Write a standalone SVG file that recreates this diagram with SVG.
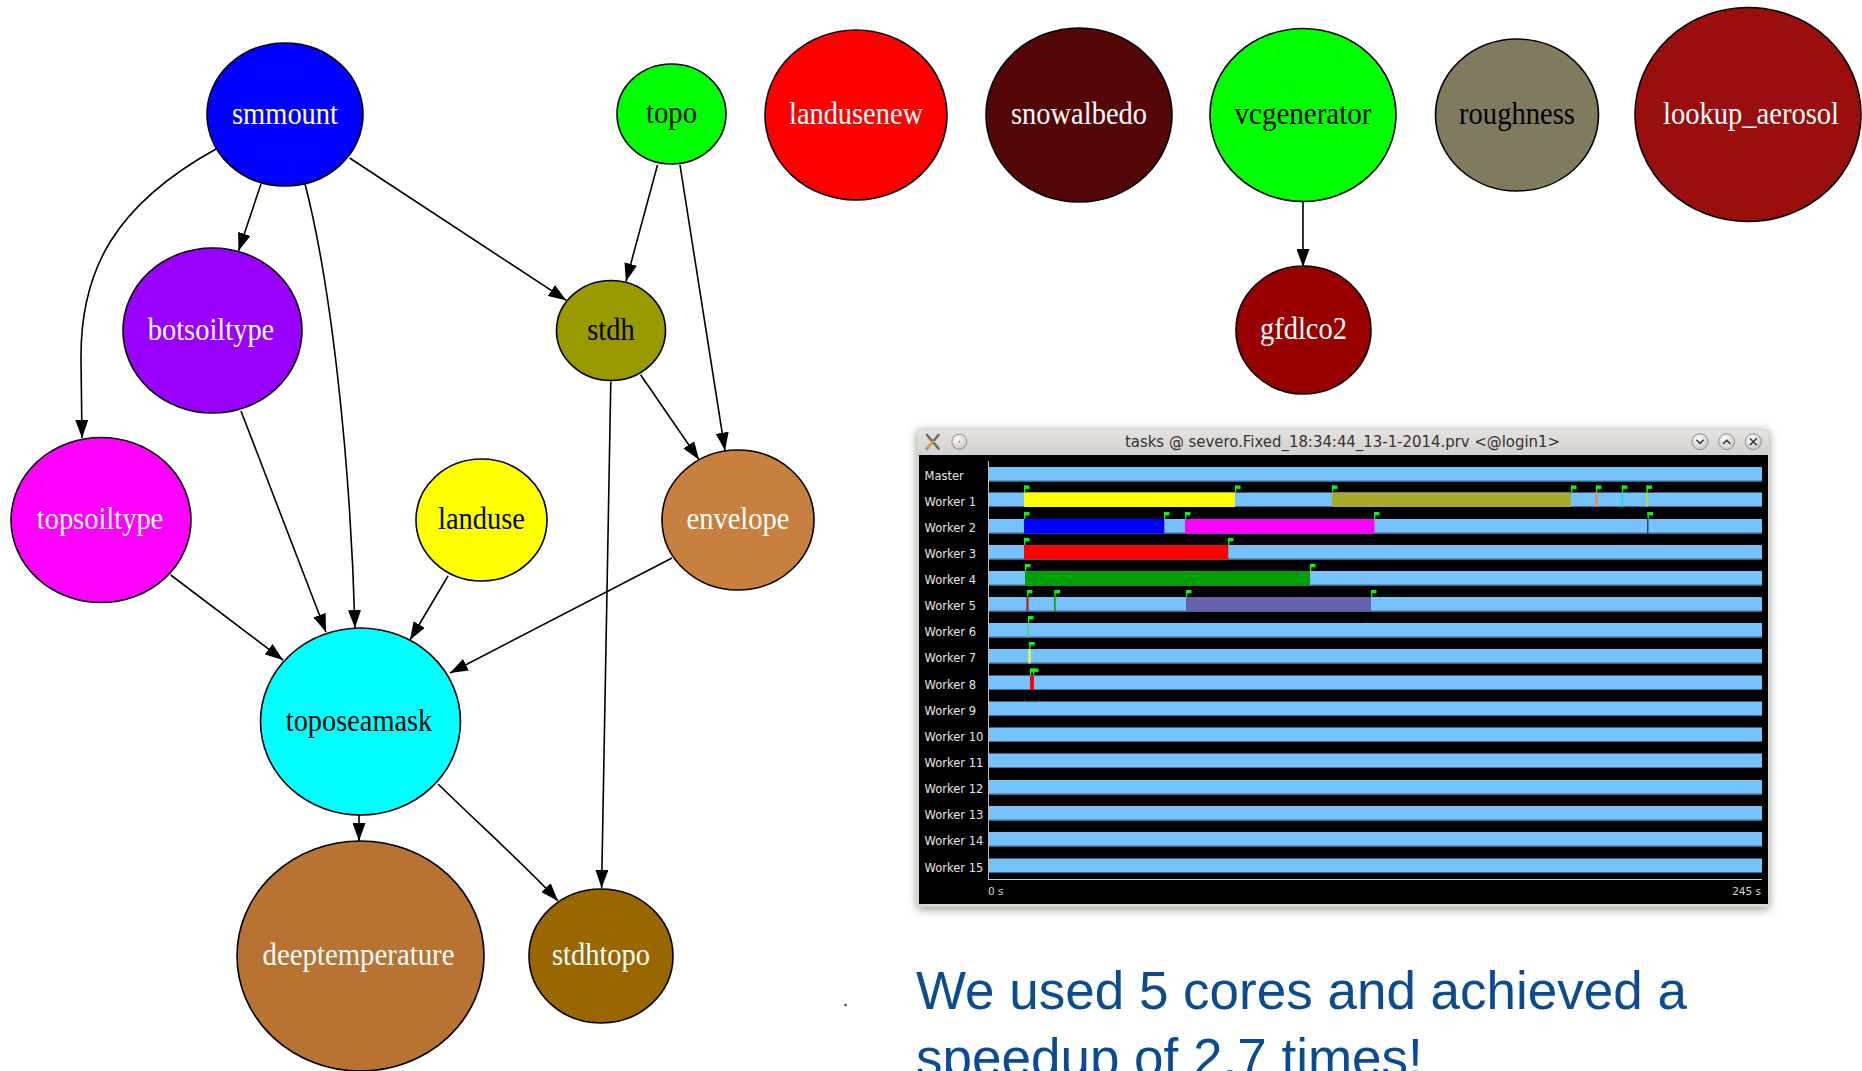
<svg xmlns="http://www.w3.org/2000/svg" width="1862" height="1071" viewBox="0 0 1862 1071">
  <style>
    .node ellipse { stroke: #000; stroke-width: 1.6; }
    .lbl { font-family: "Liberation Serif", "Times New Roman", serif; font-size: 31px; text-anchor: middle; }
    .w { fill: #fff; }
    .k { fill: #000; }
    .edge { fill: none; stroke: #000; stroke-width: 1.6; marker-end: url(#ah); }
    .bar { fill: #75c2fc; }
    .barline { fill: #3d6d96; }
    .row { font-family: "DejaVu Sans", "Liberation Sans", sans-serif; font-size: 11.5px; fill: #e6e6e6; }
    .axis { font-family: "DejaVu Sans", "Liberation Sans", sans-serif; font-size: 10.5px; fill: #d8d8d8; }
    .caption { font-family: "Liberation Sans", Arial, sans-serif; font-size: 53px; fill: #0a4b92; }
    .btn { stroke: #8f8f8f; stroke-width: 1; fill: url(#btnGrad); }
    .glyph { fill: none; stroke: #3a3a3a; stroke-width: 1.6; stroke-linecap: round; stroke-linejoin: round; }
  </style>
  <defs>
    <marker id="ah" markerWidth="18" markerHeight="13" refX="18" refY="6.5" orient="auto" markerUnits="userSpaceOnUse">
      <path d="M0,0 L18,6.5 L0,13 z" fill="#000"/>
    </marker>
    <filter id="shadow" x="-5%" y="-5%" width="110%" height="110%">
      <feDropShadow dx="0" dy="2" stdDeviation="5" flood-color="#74876f" flood-opacity="0.85"/>
    </filter>
    <linearGradient id="titleGrad" x1="0" y1="0" x2="0" y2="1">
      <stop offset="0" stop-color="#e4e1de"/>
      <stop offset="1" stop-color="#d3d0cd"/>
    </linearGradient>
    <radialGradient id="btnGrad" cx="0.4" cy="0.35" r="0.7">
      <stop offset="0" stop-color="#ffffff"/>
      <stop offset="1" stop-color="#c4c4c4"/>
    </radialGradient>
    <g id="flag">
      <rect x="0" y="0" width="1.3" height="7" fill="#00ff00"/>
      <rect x="0" y="0" width="5.5" height="3.4" fill="#00ff00"/>
    </g>
  </defs>

  <rect width="1862" height="1071" fill="#fff"/>

  <!-- dependency edges -->
  <g id="connectors">
    <path class="edge" d="M216,149 C115,205 80,270 81,360 L82,438"/>
    <path class="edge" d="M261,184 L238.5,251"/>
    <path class="edge" d="M305,184 C330,280 350,450 355,628"/>
    <path class="edge" d="M349.6,158 L566.4,300.4"/>
    <path class="edge" d="M657.5,165 L626,281.4"/>
    <path class="edge" d="M680,165 L725,450.6"/>
    <path class="edge" d="M640.6,374.7 L699,459.7"/>
    <path class="edge" d="M610.8,381.4 L601.6,888"/>
    <path class="edge" d="M241,411 L326,632"/>
    <path class="edge" d="M170.7,575 L283,660"/>
    <path class="edge" d="M448,576 L410,640"/>
    <path class="edge" d="M672,558 L450,673"/>
    <path class="edge" d="M359,815 L359,841"/>
    <path class="edge" d="M438,784 C480,825 530,870 558,901"/>
    <path class="edge" d="M1303,201 L1303,267"/>
  </g>

  <!-- nodes -->
  <g id="smmount" class="node"><ellipse cx="285" cy="114.5" rx="78" ry="71.5" fill="#0000ff"/><text class="lbl w" x="285" y="123.5" textLength="106" lengthAdjust="spacingAndGlyphs">smmount</text></g>
  <g id="topo" class="node"><ellipse cx="671.5" cy="114" rx="54.5" ry="50" fill="#00ff00"/><text class="lbl k" x="671.5" y="123" textLength="51" lengthAdjust="spacingAndGlyphs">topo</text></g>
  <g id="landusenew" class="node"><ellipse cx="856" cy="115" rx="91" ry="85" fill="#ff0000"/><text class="lbl w" x="856" y="124" textLength="134" lengthAdjust="spacingAndGlyphs">landusenew</text></g>
  <g id="snowalbedo" class="node"><ellipse cx="1079" cy="115" rx="93" ry="87" fill="#550606"/><text class="lbl w" x="1079" y="124" textLength="136" lengthAdjust="spacingAndGlyphs">snowalbedo</text></g>
  <g id="vcgenerator" class="node"><ellipse cx="1303" cy="115" rx="93" ry="86.5" fill="#00ff00"/><text class="lbl k" x="1303" y="124" textLength="137" lengthAdjust="spacingAndGlyphs">vcgenerator</text></g>
  <g id="roughness" class="node"><ellipse cx="1517" cy="115" rx="81.5" ry="76" fill="#807a5e"/><text class="lbl k" x="1517" y="124" textLength="116" lengthAdjust="spacingAndGlyphs">roughness</text></g>
  <g id="lookup_aerosol" class="node"><ellipse cx="1748" cy="114.5" rx="113" ry="107" fill="#9a0e0e"/><text class="lbl w" x="1751" y="123.5" textLength="176" lengthAdjust="spacingAndGlyphs">lookup_aerosol</text></g>
  <g id="gfdlco2" class="node"><ellipse cx="1303.5" cy="330" rx="67.5" ry="64" fill="#990000"/><text class="lbl w" x="1303.5" y="339" textLength="87" lengthAdjust="spacingAndGlyphs">gfdlco2</text></g>
  <g id="botsoiltype" class="node"><ellipse cx="212.5" cy="330.5" rx="89.5" ry="82.5" fill="#9900ff"/><text class="lbl w" x="211" y="339.5" textLength="126.5" lengthAdjust="spacingAndGlyphs">botsoiltype</text></g>
  <g id="stdh" class="node"><ellipse cx="611" cy="330.5" rx="54.5" ry="50" fill="#999900"/><text class="lbl k" x="611" y="339.5" textLength="47.5" lengthAdjust="spacingAndGlyphs">stdh</text></g>
  <g id="topsoiltype" class="node"><ellipse cx="101" cy="520" rx="90" ry="82.5" fill="#ff00ff"/><text class="lbl w" x="100" y="529" textLength="126.5" lengthAdjust="spacingAndGlyphs">topsoiltype</text></g>
  <g id="landuse" class="node"><ellipse cx="481.5" cy="520" rx="65.5" ry="61" fill="#ffff00"/><text class="lbl k" x="481.5" y="529" textLength="87" lengthAdjust="spacingAndGlyphs">landuse</text></g>
  <g id="envelope" class="node"><ellipse cx="738" cy="520" rx="76" ry="70" fill="#c8803f"/><text class="lbl w" x="738" y="529" textLength="103" lengthAdjust="spacingAndGlyphs">envelope</text></g>
  <g id="toposeamask" class="node"><ellipse cx="360.5" cy="721.5" rx="100" ry="93.5" fill="#00ffff"/><text class="lbl k" x="359" y="730.5" textLength="146.5" lengthAdjust="spacingAndGlyphs">toposeamask</text></g>
  <g id="deeptemperature" class="node"><ellipse cx="360.5" cy="956" rx="123.5" ry="115" fill="#b87333"/><text class="lbl w" x="358.5" y="965" textLength="192" lengthAdjust="spacingAndGlyphs">deeptemperature</text></g>
  <g id="stdhtopo" class="node"><ellipse cx="601" cy="956" rx="72" ry="67" fill="#996600"/><text class="lbl w" x="601" y="965" textLength="98" lengthAdjust="spacingAndGlyphs">stdhtopo</text></g>

  <!-- trace viewer window -->
  <g id="trace-window">
    <g filter="url(#shadow)">
      <rect x="917" y="429" width="852" height="478" rx="3" fill="#d9d6d3"/>
    </g>
    <rect x="918" y="430" width="850" height="25" fill="url(#titleGrad)"/>
    <!-- title bar controls -->
    <path d="M927,435 L938.5,448.5 M938.5,435 L927,448.5" stroke="#6b6b6b" stroke-width="2.6" stroke-linecap="round"/>
    <path d="M927.5,448 L933,441.5" stroke="#f0a030" stroke-width="2" stroke-linecap="round"/>
    <circle cx="959.3" cy="441.7" r="7.5" class="btn"/>
    <circle cx="959.3" cy="441.7" r="1" fill="#888"/>
    <text x="1125" y="446.5" font-family="DejaVu Sans, Liberation Sans, sans-serif" font-size="15" fill="#333" textLength="435" lengthAdjust="spacingAndGlyphs">tasks @ severo.Fixed_18:34:44_13-1-2014.prv &lt;@login1&gt;</text>
    <circle cx="1700" cy="441.7" r="8" class="btn"/>
    <polyline class="glyph" points="1696.8,440.2 1700,443.4 1703.2,440.2"/>
    <circle cx="1726.7" cy="441.7" r="8" class="btn"/>
    <polyline class="glyph" points="1723.5,443.4 1726.7,440.2 1729.9,443.4"/>
    <circle cx="1753.3" cy="441.7" r="8" class="btn"/>
    <path class="glyph" d="M1750.3,438.7 L1756.3,444.7 M1756.3,438.7 L1750.3,444.7"/>

    <rect x="919" y="455" width="849" height="449" fill="#000"/>

    <!-- timeline rows -->
    <g id="rows">
      <rect class="bar" x="989" y="467" width="773" height="14.5"/>
      <rect class="bar" x="989" y="492.5" width="773" height="14.5"/>
      <rect class="bar" x="989" y="519" width="773" height="14.5"/>
      <rect class="bar" x="989" y="545" width="773" height="14.5"/>
      <rect class="bar" x="989" y="571" width="773" height="14.5"/>
      <rect class="bar" x="989" y="597" width="773" height="14.5"/>
      <rect class="bar" x="989" y="623" width="773" height="14.5"/>
      <rect class="bar" x="989" y="649" width="773" height="14.5"/>
      <rect class="bar" x="989" y="675.5" width="773" height="14.5"/>
      <rect class="bar" x="989" y="701.5" width="773" height="14.5"/>
      <rect class="bar" x="989" y="727.5" width="773" height="14.5"/>
      <rect class="bar" x="989" y="753.5" width="773" height="14.5"/>
      <rect class="bar" x="989" y="780" width="773" height="14.5"/>
      <rect class="bar" x="989" y="806" width="773" height="14.5"/>
      <rect class="bar" x="989" y="832" width="773" height="14.5"/>
      <rect class="bar" x="989" y="858.5" width="773" height="14.5"/>
      <rect class="barline" x="989" y="480.5" width="773" height="1"/>
      <rect class="barline" x="989" y="506" width="773" height="1"/>
      <rect class="barline" x="989" y="532.5" width="773" height="1"/>
      <rect class="barline" x="989" y="558.5" width="773" height="1"/>
      <rect class="barline" x="989" y="584.5" width="773" height="1"/>
      <rect class="barline" x="989" y="610.5" width="773" height="1"/>
      <rect class="barline" x="989" y="636.5" width="773" height="1"/>
      <rect class="barline" x="989" y="662.5" width="773" height="1"/>
      <rect class="barline" x="989" y="689" width="773" height="1"/>
      <rect class="barline" x="989" y="715" width="773" height="1"/>
      <rect class="barline" x="989" y="741" width="773" height="1"/>
      <rect class="barline" x="989" y="767" width="773" height="1"/>
      <rect class="barline" x="989" y="793.5" width="773" height="1"/>
      <rect class="barline" x="989" y="819.5" width="773" height="1"/>
      <rect class="barline" x="989" y="845.5" width="773" height="1"/>
      <rect class="barline" x="989" y="872" width="773" height="1"/>
    </g>

    <!-- task bursts -->
    <g id="tasks">
      <rect x="1024" y="492.5" width="211" height="14.5" fill="#ffff00"/>
      <rect x="1332" y="492.5" width="239" height="14.5" fill="#aaaa2a"/>
      <rect x="1595.5" y="492.5" width="2" height="14.5" fill="#ff8a1a"/>
      <rect x="1621.5" y="492.5" width="1.5" height="14.5" fill="#10e0c8"/>
      <rect x="1646" y="492.5" width="1.5" height="14.5" fill="#c8e010"/>
      <rect x="1024" y="519" width="140.3" height="14.5" fill="#0000ff"/>
      <rect x="1185" y="519" width="189.3" height="14.5" fill="#ff00ff"/>
      <rect x="1647" y="519" width="1.5" height="14.5" fill="#404058"/>
      <rect x="1024" y="545" width="204.3" height="14.5" fill="#ff0000"/>
      <rect x="1025" y="571" width="285" height="14.5" fill="#00a000"/>
      <rect x="1026.5" y="597" width="2" height="14.5" fill="#b01818"/>
      <rect x="1054" y="597" width="1.6" height="14.5" fill="#00a000"/>
      <rect x="1186" y="597" width="185" height="14.5" fill="#6462ad"/>
      <rect x="1027.5" y="623" width="1.5" height="14.5" fill="#30e070"/>
      <rect x="1028.5" y="649" width="2" height="14.5" fill="#ffff30"/>
      <rect x="1030" y="675.5" width="4" height="14.5" fill="#ff0000"/>
    </g>

    <!-- event flags -->
    <g id="flags">
      <use href="#flag" x="1024" y="485.5"/>
      <use href="#flag" x="1235" y="485.5"/>
      <use href="#flag" x="1332" y="485.5"/>
      <use href="#flag" x="1571" y="485.5"/>
      <use href="#flag" x="1596" y="485.5"/>
      <use href="#flag" x="1622" y="485.5"/>
      <use href="#flag" x="1646.5" y="485.5"/>
      <use href="#flag" x="1024" y="512"/>
      <use href="#flag" x="1164" y="512"/>
      <use href="#flag" x="1185" y="512"/>
      <use href="#flag" x="1374" y="512"/>
      <use href="#flag" x="1647.5" y="512"/>
      <use href="#flag" x="1024" y="538"/>
      <use href="#flag" x="1228" y="538"/>
      <use href="#flag" x="1025" y="564"/>
      <use href="#flag" x="1310" y="564"/>
      <use href="#flag" x="1027" y="590"/>
      <use href="#flag" x="1054.5" y="590"/>
      <use href="#flag" x="1186" y="590"/>
      <use href="#flag" x="1371" y="590"/>
      <use href="#flag" x="1028" y="616"/>
      <use href="#flag" x="1029.3" y="642"/>
      <use href="#flag" x="1030" y="668.5"/>
      <use href="#flag" x="1033" y="668.5"/>
    </g>

    <!-- axes -->
    <line x1="988.5" y1="461" x2="988.5" y2="880" stroke="#bdbdbd" stroke-width="1"/>
    <line x1="988.5" y1="879.5" x2="1762" y2="879.5" stroke="#d0d0d0" stroke-width="1"/>
    <text class="axis" x="988" y="895">0 s</text>
    <text class="axis" x="1761" y="895" text-anchor="end">245 s</text>

    <!-- row labels -->
    <g id="row-labels" class="row">
      <text x="924.5" y="480">Master</text>
      <text x="924.5" y="505.5">Worker 1</text>
      <text x="924.5" y="532">Worker 2</text>
      <text x="924.5" y="558">Worker 3</text>
      <text x="924.5" y="584">Worker 4</text>
      <text x="924.5" y="610">Worker 5</text>
      <text x="924.5" y="636">Worker 6</text>
      <text x="924.5" y="662">Worker 7</text>
      <text x="924.5" y="688.5">Worker 8</text>
      <text x="924.5" y="714.5">Worker 9</text>
      <text x="924.5" y="740.5">Worker 10</text>
      <text x="924.5" y="766.5">Worker 11</text>
      <text x="924.5" y="793">Worker 12</text>
      <text x="924.5" y="819">Worker 13</text>
      <text x="924.5" y="845">Worker 14</text>
      <text x="924.5" y="871.5">Worker 15</text>
    </g>
  </g>

  <!-- caption -->
  <circle cx="845.5" cy="1005" r="1.3" fill="#0a4b92"/>
  <text class="caption" x="916" y="1009">We used 5 cores and achieved a</text>
  <text class="caption" x="916" y="1076">speedup of 2.7 times!</text>
</svg>
